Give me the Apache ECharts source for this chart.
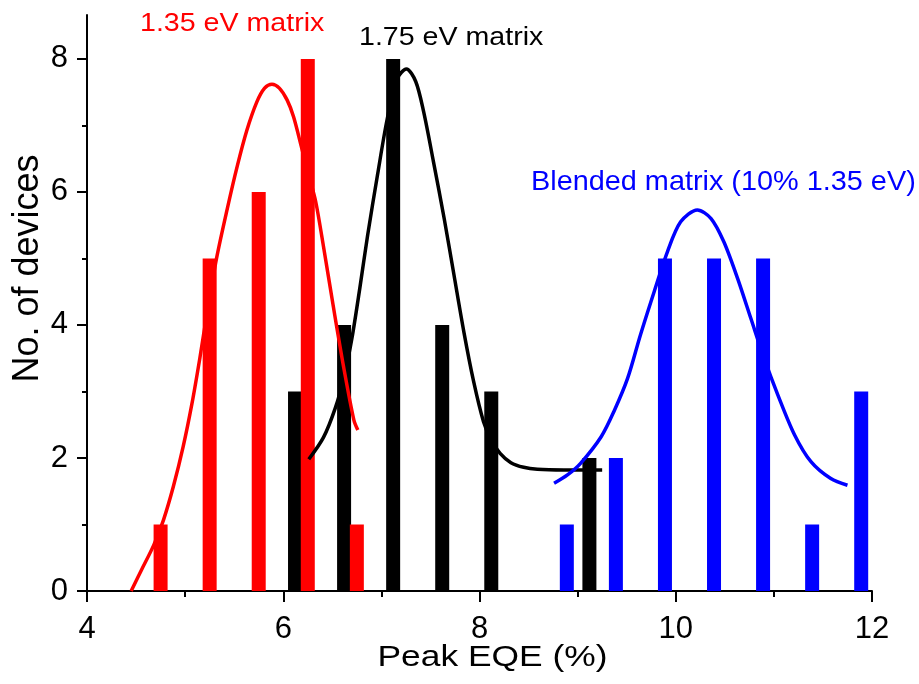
<!DOCTYPE html>
<html>
<head>
<meta charset="utf-8">
<script src="https://cdn.jsdelivr.net/npm/echarts@6/dist/echarts.min.js"></script>
<style>
html,body{margin:0;padding:0;background:#fff;}
#chart{width:919px;height:684px;}
</style>
</head>
<body>
<div id="chart"></div>
<script>
// ---- data ----
var xTicks = [4, 6, 8, 10, 12];
var yTicks = [0, 2, 4, 6, 8];
var yMinorTicks = [1, 3, 5, 7];

// histogram bars: bin centre (Peak EQE %) and count
var redBinX = [4.75, 5.25, 5.75, 6.25, 6.75];
var redCount = [1, 5, 6, 8, 1];
var blackBinX = [6.12, 6.62, 7.12, 7.62, 8.12, 8.62, 9.12];
var blackCount = [3, 4, 8, 4, 3, 0, 2];
var blueBinX = [8.89, 9.39, 9.89, 10.39, 10.89, 11.39, 11.89];
var blueCount = [1, 2, 5, 5, 5, 1, 3];

// fitted curves, points
var redFitX = [4.45, 4.56, 4.68, 4.78, 4.88, 4.98, 5.07, 5.15, 5.22, 5.32, 5.43, 5.53, 5.63, 5.73, 5.81, 5.885, 5.96, 6.04, 6.105, 6.19, 6.26, 6.33, 6.41, 6.51, 6.615, 6.72, 6.76];
var redFitY = [0.00, 0.33, 0.69, 1.07, 1.57, 2.17, 2.82, 3.50, 4.15, 5.00, 5.75, 6.38, 6.93, 7.35, 7.56, 7.62, 7.56, 7.38, 7.13, 6.65, 6.25, 5.86, 5.18, 4.28, 3.37, 2.57, 2.42];
var blackFitX = [6.26, 6.41, 6.53, 6.62, 6.70, 6.78, 6.86, 6.96, 7.06, 7.16, 7.255, 7.35, 7.43, 7.53, 7.64, 7.74, 7.84, 7.94, 8.04, 8.12, 8.21, 8.32, 8.45, 8.59, 8.86, 9.25];
var blackFitY = [1.98, 2.31, 2.75, 3.22, 3.80, 4.55, 5.35, 6.25, 7.10, 7.70, 7.85, 7.66, 7.21, 6.46, 5.60, 4.75, 3.90, 3.15, 2.55, 2.27, 2.07, 1.93, 1.86, 1.83, 1.82, 1.82];
var blueFitX = [8.76, 8.90, 9.03, 9.24, 9.37, 9.51, 9.64, 9.78, 9.915, 10.05, 10.22, 10.36, 10.49, 10.63, 10.765, 10.90, 11.04, 11.21, 11.38, 11.58, 11.75];
var blueFitY = [1.62, 1.75, 1.92, 2.32, 2.70, 3.20, 3.85, 4.50, 5.10, 5.55, 5.73, 5.60, 5.25, 4.70, 4.10, 3.50, 2.95, 2.35, 1.94, 1.69, 1.59];

var labelRed = '1.35 eV matrix';
var labelBlack = '1.75 eV matrix';
var labelBlue = 'Blended matrix (10% 1.35 eV)';
var xTitle = 'Peak EQE (%)';
var yTitle = 'No. of devices';

// ---- build ----
function pairs(xs, ys) { return xs.map(function (x, i) { return [x, ys[i]]; }); }
var FONT = '"Liberation Sans", Arial, Helvetica, sans-serif';
var RED = '#ff0000', BLACK = '#000000', BLUE = '#0000ff';

function barSeries(name, xs, ys, color) {
  return {
    name: name, type: 'bar', data: pairs(xs, ys), barWidth: 14, barGap: '-100%',
    itemStyle: { color: color }, silent: true, z: 2
  };
}
function lineSeries(name, xs, ys, color) {
  return {
    name: name, type: 'line', data: pairs(xs, ys), showSymbol: false, symbol: 'none',
    smooth: 0.3, lineStyle: { color: color, width: 3.5, join: 'round', cap: 'butt' }, silent: true, z: 5
  };
}

var chart = echarts.init(document.getElementById('chart'), null, { renderer: 'canvas' });
chart.setOption({
  animation: false,
  backgroundColor: '#ffffff',
  grid: { left: 87, right: 47, top: 15, bottom: 93, containLabel: false },
  xAxis: {
    type: 'value', min: xTicks[0], max: xTicks[xTicks.length - 1], interval: 2,
    axisLine: { show: true, onZero: false, lineStyle: { color: BLACK, width: 2 } },
    axisTick: { show: true, length: 11, lineStyle: { color: BLACK, width: 2 } },
    minorTick: { show: true, splitNumber: 2, length: 6, lineStyle: { color: BLACK, width: 2 } },
    splitLine: { show: false }, minorSplitLine: { show: false },
    axisLabel: { fontSize: 31, color: BLACK, fontFamily: FONT, margin: 23 }
  },
  yAxis: [{
    type: 'value', min: 0, max: 8.66, position: 'left',
    axisLine: { show: true, onZero: false, lineStyle: { color: BLACK, width: 2 } },
    axisTick: { show: true, length: 10, customValues: yTicks, lineStyle: { color: BLACK, width: 2 } },
    splitLine: { show: false },
    axisLabel: { fontSize: 31, color: BLACK, fontFamily: FONT, margin: 19, customValues: yTicks }
  }, {
    type: 'value', min: 0, max: 8.66, position: 'left', offset: 0,
    axisLine: { show: false },
    axisTick: { show: true, length: 5, customValues: yMinorTicks, lineStyle: { color: BLACK, width: 2 } },
    splitLine: { show: false },
    axisLabel: { show: false }
  }],
  series: [
    barSeries('black bars', blackBinX, blackCount, BLACK),
    barSeries('red bars', redBinX, redCount, RED),
    barSeries('blue bars', blueBinX, blueCount, BLUE),
    lineSeries('black fit', blackFitX, blackFitY, BLACK),
    lineSeries('red fit', redFitX, redFitY, RED),
    lineSeries('blue fit', blueFitX, blueFitY, BLUE)
  ],
  graphic: [
    { type: 'text', x: 140, y: 24, scaleX: 1.1, z: 10,
      style: { text: labelRed, fill: RED, fontSize: 26, fontFamily: FONT, align: 'left', verticalAlign: 'middle' } },
    { type: 'text', x: 359, y: 38, scaleX: 1.1, z: 10,
      style: { text: labelBlack, fill: BLACK, fontSize: 26, fontFamily: FONT, align: 'left', verticalAlign: 'middle' } },
    { type: 'text', x: 531, y: 182.5, scaleX: 1.03, z: 10,
      style: { text: labelBlue, fill: BLUE, fontSize: 28, fontFamily: FONT, align: 'left', verticalAlign: 'middle' } },
    { type: 'text', x: 492.5, y: 658, scaleX: 1.22, z: 10,
      style: { text: xTitle, fill: BLACK, fontSize: 29, fontFamily: FONT, align: 'center', verticalAlign: 'middle' } },
    { type: 'text', x: 28.5, y: 268.5, rotation: Math.PI / 2, z: 10,
      style: { text: yTitle, fill: BLACK, fontSize: 36, fontFamily: FONT, align: 'center', verticalAlign: 'middle' } }
  ]
});
</script>
</body>
</html>
